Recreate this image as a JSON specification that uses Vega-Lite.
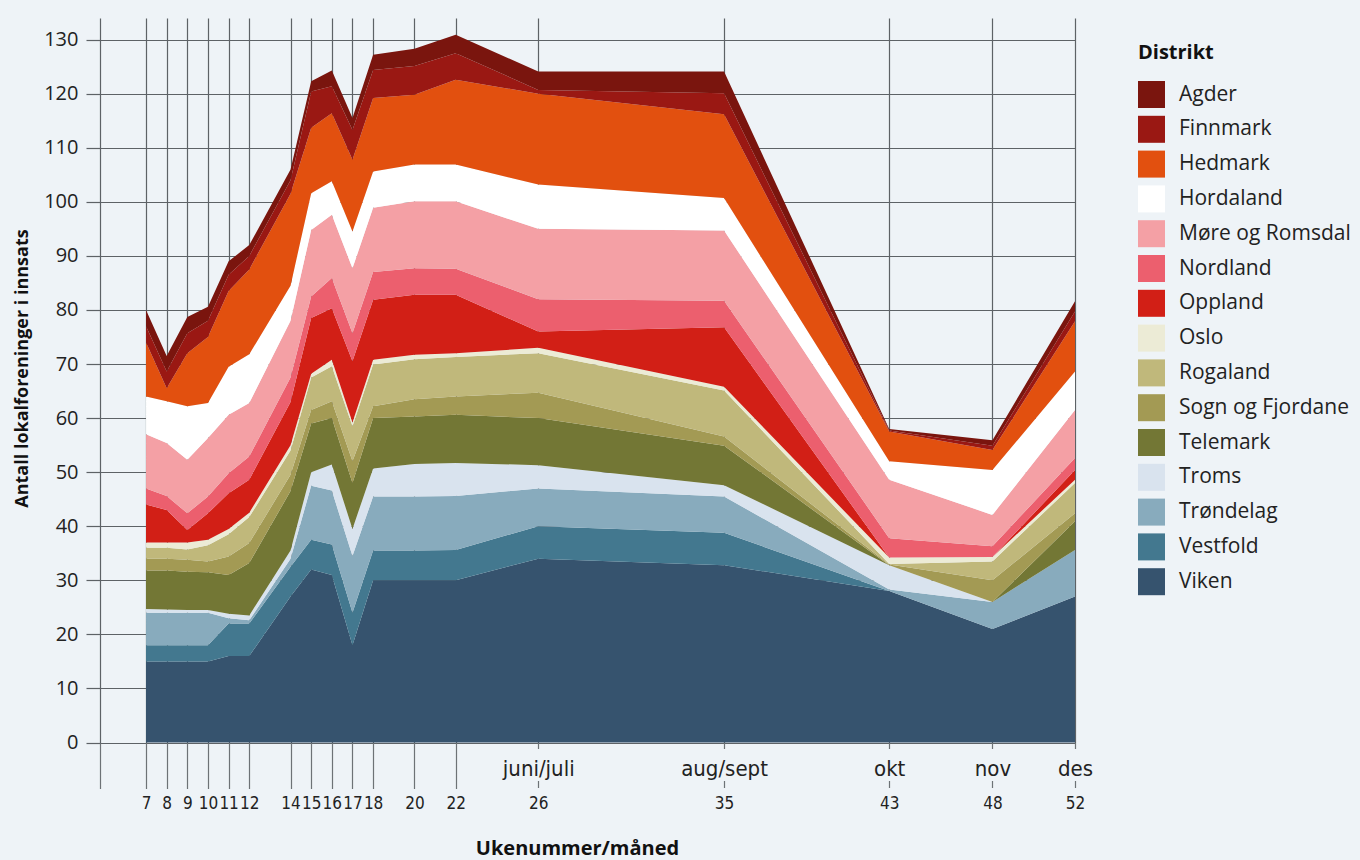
{
  "$schema": "https://vega.github.io/schema/vega-lite/v6.json",
  "width": 975,
  "height": 724.5,
  "autosize": {"type": "none"},
  "padding": {"left": 100, "top": 18, "right": 285, "bottom": 117.5},
  "background": "#eef3f7",
  "config": {"view": {"stroke": null}, "font": "Open Sans"},
  "data": {"values": [
    {"uke":7,"distrikt":"Viken","antall":15},{"uke":7,"distrikt":"Vestfold","antall":3},{"uke":7,"distrikt":"Trøndelag","antall":6},{"uke":7,"distrikt":"Troms","antall":0.7},{"uke":7,"distrikt":"Telemark","antall":7.1},{"uke":7,"distrikt":"Sogn og Fjordane","antall":2.2},{"uke":7,"distrikt":"Rogaland","antall":2},{"uke":7,"distrikt":"Oslo","antall":1},{"uke":7,"distrikt":"Oppland","antall":7},{"uke":7,"distrikt":"Nordland","antall":3},{"uke":7,"distrikt":"Møre og Romsdal","antall":10},{"uke":7,"distrikt":"Hordaland","antall":7},{"uke":7,"distrikt":"Hedmark","antall":10},{"uke":7,"distrikt":"Finnmark","antall":3},{"uke":7,"distrikt":"Agder","antall":3},
    {"uke":8,"distrikt":"Viken","antall":15},{"uke":8,"distrikt":"Vestfold","antall":3},{"uke":8,"distrikt":"Trøndelag","antall":6},{"uke":8,"distrikt":"Troms","antall":0.6},{"uke":8,"distrikt":"Telemark","antall":7.2},{"uke":8,"distrikt":"Sogn og Fjordane","antall":2.2},{"uke":8,"distrikt":"Rogaland","antall":2},{"uke":8,"distrikt":"Oslo","antall":1},{"uke":8,"distrikt":"Oppland","antall":6},{"uke":8,"distrikt":"Nordland","antall":2.6},{"uke":8,"distrikt":"Møre og Romsdal","antall":9.8},{"uke":8,"distrikt":"Hordaland","antall":7.7},{"uke":8,"distrikt":"Hedmark","antall":2.4},{"uke":8,"distrikt":"Finnmark","antall":3.1},{"uke":8,"distrikt":"Agder","antall":2.9},
    {"uke":9,"distrikt":"Viken","antall":15},{"uke":9,"distrikt":"Vestfold","antall":3},{"uke":9,"distrikt":"Trøndelag","antall":6},{"uke":9,"distrikt":"Troms","antall":0.5},{"uke":9,"distrikt":"Telemark","antall":7.1},{"uke":9,"distrikt":"Sogn og Fjordane","antall":2.2},{"uke":9,"distrikt":"Rogaland","antall":1.9},{"uke":9,"distrikt":"Oslo","antall":1.3},{"uke":9,"distrikt":"Oppland","antall":2.3},{"uke":9,"distrikt":"Nordland","antall":3.1},{"uke":9,"distrikt":"Møre og Romsdal","antall":9.9},{"uke":9,"distrikt":"Hordaland","antall":9.9},{"uke":9,"distrikt":"Hedmark","antall":9.8},{"uke":9,"distrikt":"Finnmark","antall":3.7},{"uke":9,"distrikt":"Agder","antall":3},
    {"uke":10,"distrikt":"Viken","antall":15},{"uke":10,"distrikt":"Vestfold","antall":3},{"uke":10,"distrikt":"Trøndelag","antall":6},{"uke":10,"distrikt":"Troms","antall":0.5},{"uke":10,"distrikt":"Telemark","antall":7},{"uke":10,"distrikt":"Sogn og Fjordane","antall":2},{"uke":10,"distrikt":"Rogaland","antall":3},{"uke":10,"distrikt":"Oslo","antall":1},{"uke":10,"distrikt":"Oppland","antall":4.9},{"uke":10,"distrikt":"Nordland","antall":3.1},{"uke":10,"distrikt":"Møre og Romsdal","antall":10.8},{"uke":10,"distrikt":"Hordaland","antall":6.5},{"uke":10,"distrikt":"Hedmark","antall":12.2},{"uke":10,"distrikt":"Finnmark","antall":3},{"uke":10,"distrikt":"Agder","antall":2.6},
    {"uke":11,"distrikt":"Viken","antall":16},{"uke":11,"distrikt":"Vestfold","antall":6},{"uke":11,"distrikt":"Trøndelag","antall":1},{"uke":11,"distrikt":"Troms","antall":0.8},{"uke":11,"distrikt":"Telemark","antall":7.2},{"uke":11,"distrikt":"Sogn og Fjordane","antall":3.4},{"uke":11,"distrikt":"Rogaland","antall":4.1},{"uke":11,"distrikt":"Oslo","antall":1},{"uke":11,"distrikt":"Oppland","antall":6.6},{"uke":11,"distrikt":"Nordland","antall":3.7},{"uke":11,"distrikt":"Møre og Romsdal","antall":10.8},{"uke":11,"distrikt":"Hordaland","antall":8.9},{"uke":11,"distrikt":"Hedmark","antall":14},{"uke":11,"distrikt":"Finnmark","antall":3},{"uke":11,"distrikt":"Agder","antall":2.5},
    {"uke":12,"distrikt":"Viken","antall":16},{"uke":12,"distrikt":"Vestfold","antall":6},{"uke":12,"distrikt":"Trøndelag","antall":0.6},{"uke":12,"distrikt":"Troms","antall":0.9},{"uke":12,"distrikt":"Telemark","antall":9.7},{"uke":12,"distrikt":"Sogn og Fjordane","antall":3.7},{"uke":12,"distrikt":"Rogaland","antall":4.8},{"uke":12,"distrikt":"Oslo","antall":0.8},{"uke":12,"distrikt":"Oppland","antall":6.1},{"uke":12,"distrikt":"Nordland","antall":4.3},{"uke":12,"distrikt":"Møre og Romsdal","antall":9.9},{"uke":12,"distrikt":"Hordaland","antall":9},{"uke":12,"distrikt":"Hedmark","antall":15.7},{"uke":12,"distrikt":"Finnmark","antall":2.5},{"uke":12,"distrikt":"Agder","antall":2},
    {"uke":14,"distrikt":"Viken","antall":27},{"uke":14,"distrikt":"Vestfold","antall":5.5},{"uke":14,"distrikt":"Trøndelag","antall":1.5},{"uke":14,"distrikt":"Troms","antall":1.5},{"uke":14,"distrikt":"Telemark","antall":11},{"uke":14,"distrikt":"Sogn og Fjordane","antall":3},{"uke":14,"distrikt":"Rogaland","antall":4.5},{"uke":14,"distrikt":"Oslo","antall":1},{"uke":14,"distrikt":"Oppland","antall":8},{"uke":14,"distrikt":"Nordland","antall":4.5},{"uke":14,"distrikt":"Møre og Romsdal","antall":10.5},{"uke":14,"distrikt":"Hordaland","antall":6.5},{"uke":14,"distrikt":"Hedmark","antall":17},{"uke":14,"distrikt":"Finnmark","antall":2.5},{"uke":14,"distrikt":"Agder","antall":2},
    {"uke":15,"distrikt":"Viken","antall":32},{"uke":15,"distrikt":"Vestfold","antall":5.5},{"uke":15,"distrikt":"Trøndelag","antall":10},{"uke":15,"distrikt":"Troms","antall":2.5},{"uke":15,"distrikt":"Telemark","antall":9},{"uke":15,"distrikt":"Sogn og Fjordane","antall":2.5},{"uke":15,"distrikt":"Rogaland","antall":6},{"uke":15,"distrikt":"Oslo","antall":0.7},{"uke":15,"distrikt":"Oppland","antall":10.3},{"uke":15,"distrikt":"Nordland","antall":4},{"uke":15,"distrikt":"Møre og Romsdal","antall":12.3},{"uke":15,"distrikt":"Hordaland","antall":6.8},{"uke":15,"distrikt":"Hedmark","antall":12.1},{"uke":15,"distrikt":"Finnmark","antall":6.7},{"uke":15,"distrikt":"Agder","antall":1.9},
    {"uke":16,"distrikt":"Viken","antall":31},{"uke":16,"distrikt":"Vestfold","antall":5.6},{"uke":16,"distrikt":"Trøndelag","antall":10},{"uke":16,"distrikt":"Troms","antall":4.8},{"uke":16,"distrikt":"Telemark","antall":8.6},{"uke":16,"distrikt":"Sogn og Fjordane","antall":3.1},{"uke":16,"distrikt":"Rogaland","antall":6.5},{"uke":16,"distrikt":"Oslo","antall":1.2},{"uke":16,"distrikt":"Oppland","antall":9.5},{"uke":16,"distrikt":"Nordland","antall":5.6},{"uke":16,"distrikt":"Møre og Romsdal","antall":11.7},{"uke":16,"distrikt":"Hordaland","antall":6.2},{"uke":16,"distrikt":"Hedmark","antall":12.6},{"uke":16,"distrikt":"Finnmark","antall":5},{"uke":16,"distrikt":"Agder","antall":2.9},
    {"uke":17,"distrikt":"Viken","antall":18},{"uke":17,"distrikt":"Vestfold","antall":6},{"uke":17,"distrikt":"Trøndelag","antall":10.5},{"uke":17,"distrikt":"Troms","antall":5},{"uke":17,"distrikt":"Telemark","antall":8.5},{"uke":17,"distrikt":"Sogn og Fjordane","antall":4},{"uke":17,"distrikt":"Rogaland","antall":6.5},{"uke":17,"distrikt":"Oslo","antall":0.7},{"uke":17,"distrikt":"Oppland","antall":11.3},{"uke":17,"distrikt":"Nordland","antall":5.2},{"uke":17,"distrikt":"Møre og Romsdal","antall":12},{"uke":17,"distrikt":"Hordaland","antall":6.8},{"uke":17,"distrikt":"Hedmark","antall":13.3},{"uke":17,"distrikt":"Finnmark","antall":5.5},{"uke":17,"distrikt":"Agder","antall":2.2},
    {"uke":18,"distrikt":"Viken","antall":30},{"uke":18,"distrikt":"Vestfold","antall":5.5},{"uke":18,"distrikt":"Trøndelag","antall":10},{"uke":18,"distrikt":"Troms","antall":5.2},{"uke":18,"distrikt":"Telemark","antall":9.3},{"uke":18,"distrikt":"Sogn og Fjordane","antall":2.2},{"uke":18,"distrikt":"Rogaland","antall":7.7},{"uke":18,"distrikt":"Oslo","antall":0.9},{"uke":18,"distrikt":"Oppland","antall":11.1},{"uke":18,"distrikt":"Nordland","antall":5.1},{"uke":18,"distrikt":"Møre og Romsdal","antall":11.9},{"uke":18,"distrikt":"Hordaland","antall":6.7},{"uke":18,"distrikt":"Hedmark","antall":13.6},{"uke":18,"distrikt":"Finnmark","antall":5.2},{"uke":18,"distrikt":"Agder","antall":2.8},
    {"uke":20,"distrikt":"Viken","antall":30},{"uke":20,"distrikt":"Vestfold","antall":5.5},{"uke":20,"distrikt":"Trøndelag","antall":10},{"uke":20,"distrikt":"Troms","antall":6},{"uke":20,"distrikt":"Telemark","antall":8.8},{"uke":20,"distrikt":"Sogn og Fjordane","antall":3.2},{"uke":20,"distrikt":"Rogaland","antall":7.4},{"uke":20,"distrikt":"Oslo","antall":0.8},{"uke":20,"distrikt":"Oppland","antall":11.1},{"uke":20,"distrikt":"Nordland","antall":4.9},{"uke":20,"distrikt":"Møre og Romsdal","antall":12.4},{"uke":20,"distrikt":"Hordaland","antall":6.8},{"uke":20,"distrikt":"Hedmark","antall":12.9},{"uke":20,"distrikt":"Finnmark","antall":5.3},{"uke":20,"distrikt":"Agder","antall":3.2},
    {"uke":22,"distrikt":"Viken","antall":30},{"uke":22,"distrikt":"Vestfold","antall":5.6},{"uke":22,"distrikt":"Trøndelag","antall":10},{"uke":22,"distrikt":"Troms","antall":6.1},{"uke":22,"distrikt":"Telemark","antall":8.9},{"uke":22,"distrikt":"Sogn og Fjordane","antall":3.4},{"uke":22,"distrikt":"Rogaland","antall":7.3},{"uke":22,"distrikt":"Oslo","antall":0.7},{"uke":22,"distrikt":"Oppland","antall":10.8},{"uke":22,"distrikt":"Nordland","antall":4.8},{"uke":22,"distrikt":"Møre og Romsdal","antall":12.5},{"uke":22,"distrikt":"Hordaland","antall":6.8},{"uke":22,"distrikt":"Hedmark","antall":15.7},{"uke":22,"distrikt":"Finnmark","antall":4.9},{"uke":22,"distrikt":"Agder","antall":3.4},
    {"uke":26,"distrikt":"Viken","antall":34},{"uke":26,"distrikt":"Vestfold","antall":6},{"uke":26,"distrikt":"Trøndelag","antall":7},{"uke":26,"distrikt":"Troms","antall":4.3},{"uke":26,"distrikt":"Telemark","antall":8.7},{"uke":26,"distrikt":"Sogn og Fjordane","antall":4.7},{"uke":26,"distrikt":"Rogaland","antall":7.3},{"uke":26,"distrikt":"Oslo","antall":1},{"uke":26,"distrikt":"Oppland","antall":3},{"uke":26,"distrikt":"Nordland","antall":6},{"uke":26,"distrikt":"Møre og Romsdal","antall":13},{"uke":26,"distrikt":"Hordaland","antall":8.2},{"uke":26,"distrikt":"Hedmark","antall":16.8},{"uke":26,"distrikt":"Finnmark","antall":0.7},{"uke":26,"distrikt":"Agder","antall":3.4},
    {"uke":35,"distrikt":"Viken","antall":32.8},{"uke":35,"distrikt":"Vestfold","antall":6},{"uke":35,"distrikt":"Trøndelag","antall":6.7},{"uke":35,"distrikt":"Troms","antall":2.1},{"uke":35,"distrikt":"Telemark","antall":7.3},{"uke":35,"distrikt":"Sogn og Fjordane","antall":1.7},{"uke":35,"distrikt":"Rogaland","antall":8.5},{"uke":35,"distrikt":"Oslo","antall":0.7},{"uke":35,"distrikt":"Oppland","antall":11},{"uke":35,"distrikt":"Nordland","antall":4.9},{"uke":35,"distrikt":"Møre og Romsdal","antall":13},{"uke":35,"distrikt":"Hordaland","antall":6},{"uke":35,"distrikt":"Hedmark","antall":15.5},{"uke":35,"distrikt":"Finnmark","antall":3.9},{"uke":35,"distrikt":"Agder","antall":4},
    {"uke":43,"distrikt":"Viken","antall":28},{"uke":43,"distrikt":"Vestfold","antall":0},{"uke":43,"distrikt":"Trøndelag","antall":0.3},{"uke":43,"distrikt":"Troms","antall":4.5},{"uke":43,"distrikt":"Telemark","antall":0},{"uke":43,"distrikt":"Sogn og Fjordane","antall":0.1},{"uke":43,"distrikt":"Rogaland","antall":0.1},{"uke":43,"distrikt":"Oslo","antall":1.2},{"uke":43,"distrikt":"Oppland","antall":0},{"uke":43,"distrikt":"Nordland","antall":3.6},{"uke":43,"distrikt":"Møre og Romsdal","antall":10.8},{"uke":43,"distrikt":"Hordaland","antall":3.4},{"uke":43,"distrikt":"Hedmark","antall":5.5},{"uke":43,"distrikt":"Finnmark","antall":0.2},{"uke":43,"distrikt":"Agder","antall":0.3},
    {"uke":48,"distrikt":"Viken","antall":21},{"uke":48,"distrikt":"Vestfold","antall":0},{"uke":48,"distrikt":"Trøndelag","antall":5},{"uke":48,"distrikt":"Troms","antall":0},{"uke":48,"distrikt":"Telemark","antall":0},{"uke":48,"distrikt":"Sogn og Fjordane","antall":4},{"uke":48,"distrikt":"Rogaland","antall":3.5},{"uke":48,"distrikt":"Oslo","antall":0.8},{"uke":48,"distrikt":"Oppland","antall":0},{"uke":48,"distrikt":"Nordland","antall":2},{"uke":48,"distrikt":"Møre og Romsdal","antall":5.8},{"uke":48,"distrikt":"Hordaland","antall":8.3},{"uke":48,"distrikt":"Hedmark","antall":3.7},{"uke":48,"distrikt":"Finnmark","antall":0.8},{"uke":48,"distrikt":"Agder","antall":1},
    {"uke":52,"distrikt":"Viken","antall":27},{"uke":52,"distrikt":"Vestfold","antall":0},{"uke":52,"distrikt":"Trøndelag","antall":8.6},{"uke":52,"distrikt":"Troms","antall":0},{"uke":52,"distrikt":"Telemark","antall":5.3},{"uke":52,"distrikt":"Sogn og Fjordane","antall":1.5},{"uke":52,"distrikt":"Rogaland","antall":5.6},{"uke":52,"distrikt":"Oslo","antall":0.6},{"uke":52,"distrikt":"Oppland","antall":1.8},{"uke":52,"distrikt":"Nordland","antall":2.2},{"uke":52,"distrikt":"Møre og Romsdal","antall":8.9},{"uke":52,"distrikt":"Hordaland","antall":7.1},{"uke":52,"distrikt":"Hedmark","antall":9.3},{"uke":52,"distrikt":"Finnmark","antall":1.8},{"uke":52,"distrikt":"Agder","antall":1.9}
  ]},
  "layer": [
    {
      "mark": {"type": "area", "interpolate": "linear"},
      "encoding": {
        "x": {
          "field": "uke", "type": "quantitative",
          "scale": {"domain": [4.77, 52], "nice": false, "zero": false},
          "axis": {
            "orient": "bottom",
            "values": [4.77, 7, 8, 9, 10, 11, 12, 14, 15, 16, 17, 18, 20, 22, 26, 35, 43, 48, 52],
            "labelExpr": "datum.value < 6 ? '' : format(datum.value, 'd')",
            "grid": true, "gridColor": "#5d6266", "gridWidth": 1.2,
            "ticks": true, "tickSize": 46, "tickColor": "#6d7276", "tickWidth": 1.2,
            "tickDash": {"condition": {"test": "datum.value >= 24", "value": [6, 32, 7, 20]}, "value": [1, 0]},
            "domain": false,
            "labelFont": "DejaVu Sans Condensed", "labelFontSize": 17, "labelColor": "#222222",
            "labelPadding": 14.5, "labelBaseline": "middle",
            "labelFlush": false, "labelOverlap": false, "labelBound": false,
            "title": "Ukenummer/måned",
            "titleFont": "Open Sans", "titleFontSize": 20, "titleFontWeight": "bold", "titleColor": "#111111",
            "titleX": 477, "titleY": 106, "titleBaseline": "middle", "titleAlign": "center"
          }
        },
        "y": {
          "field": "antall", "type": "quantitative", "stack": "zero",
          "scale": {"domain": [0, 134], "nice": false},
          "axis": {
            "values": [0, 10, 20, 30, 40, 50, 60, 70, 80, 90, 100, 110, 120, 130],
            "grid": true, "gridColor": "#5d6266", "gridWidth": 1.2,
            "tickSize": 14, "tickColor": "#5d6266", "tickWidth": 1.2,
            "domain": false,
            "labelFont": "Open Sans", "labelFontSize": 20, "labelColor": "#222222", "labelPadding": 8,
            "title": "Antall lokalforeninger i innsats",
            "titleFont": "Open Sans", "titleFontSize": 18, "titleFontWeight": "bold", "titleColor": "#111111",
            "titleX": -78, "titleY": 350, "titleAngle": 270, "titleBaseline": "middle", "titleAlign": "center"
          }
        },
        "color": {
          "field": "distrikt", "type": "nominal",
          "scale": {
            "domain": ["Agder", "Finnmark", "Hedmark", "Hordaland", "Møre og Romsdal", "Nordland", "Oppland", "Oslo", "Rogaland", "Sogn og Fjordane", "Telemark", "Troms", "Trøndelag", "Vestfold", "Viken"],
            "range": ["#7a150e", "#9a1813", "#e2500f", "#ffffff", "#f4a0a5", "#ec5f6e", "#d21f16", "#ecebd6", "#c0b87b", "#a39a54", "#737735", "#d9e3ee", "#88abbd", "#43788f", "#36536e"]
          },
          "legend": {
            "orient": "none", "legendX": 1038, "legendY": 25,
            "title": "Distrikt", "titleFont": "Open Sans", "titleFontSize": 20, "titleFontWeight": "bold", "titleColor": "#111111", "titlePadding": 18,
            "labelFont": "Open Sans", "labelFontSize": 21, "labelColor": "#222222", "labelOffset": 14, "labelLimit": 400,
            "symbolType": "square", "symbolSize": 729, "symbolStrokeWidth": 0, "symbolOpacity": 1,
            "rowPadding": 7.8, "padding": 0
          }
        },
        "order": {"field": "distrikt", "sort": "descending"}
      }
    },
    {
      "mark": {"type": "point", "opacity": 0},
      "encoding": {
        "x": {
          "field": "uke", "type": "quantitative",
          "axis": {
            "orient": "bottom",
            "values": [26, 35, 43, 48, 52],
            "labelExpr": "datum.value == 26 ? 'juni/juli' : datum.value == 35 ? 'aug/sept' : datum.value == 43 ? 'okt' : datum.value == 48 ? 'nov' : 'des'",
            "grid": false, "ticks": false, "tickSize": 0, "domain": false,
            "labelFont": "DejaVu Sans Condensed", "labelFontSize": 22, "labelColor": "#222222",
            "labelPadding": 25.5, "labelBaseline": "middle",
            "labelFlush": false, "labelOverlap": false, "labelBound": false,
            "title": null
          }
        }
      }
    }
  ],
  "resolve": {"axis": {"x": "independent"}}
}
